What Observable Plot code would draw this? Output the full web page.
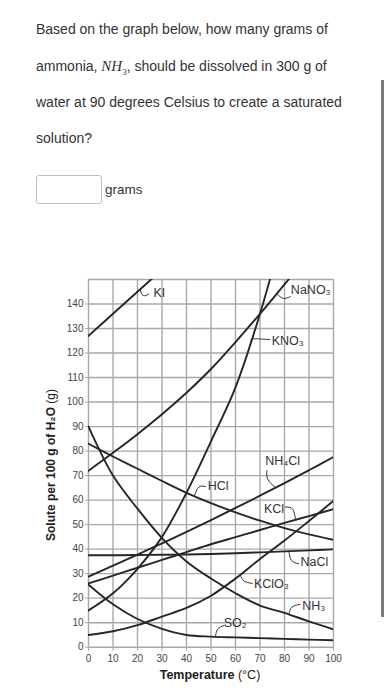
<!DOCTYPE html>
<html><head><meta charset="utf-8">
<script src="https://cdn.jsdelivr.net/npm/d3@7"></script>
<script src="https://cdn.jsdelivr.net/npm/@observablehq/plot@0.6"></script>
<style>
body{margin:0;width:388px;height:700px;background:#fff;font-family:"Liberation Sans",Arial,sans-serif;color:#333;position:relative;overflow:hidden}
.q{position:absolute;left:36px;font-size:14px;line-height:16px;white-space:nowrap;color:#333}
.m{font-family:"Liberation Serif",serif;font-style:italic;font-size:15px}
.box{position:absolute;left:36px;top:175px;width:64px;height:27px;border:1px solid #bdbdbd;border-radius:3px;background:#fff}
.grams{position:absolute;left:105px;top:182px;font-size:13.5px;line-height:16px;color:#333}
.bar{position:absolute;left:381px;top:80px;width:3px;height:537px;background:#7a7a7a}
#chart{position:absolute;left:0;top:270px}
.xt{position:absolute;left:0;width:420px;top:667px;text-align:center;font-size:12.5px;line-height:16px;color:#222}
.yt{position:absolute;left:51px;top:465px;transform:translate(-50%,-50%) rotate(-90deg);white-space:nowrap;font-size:12px;line-height:14px;color:#222}
b{font-weight:bold}
</style></head>
<body>
<div class="q" style="top:21px">Based on the graph below, how many grams of</div>
<div class="q" style="top:58px">ammonia, <span class="m">NH</span><sub style="font-family:'Liberation Serif',serif;font-size:9px">3</sub>, should be dissolved in 300 g of</div>
<div class="q" style="top:94px">water at 90 degrees Celsius to create a saturated</div>
<div class="q" style="top:130px">solution?</div>
<div class="box"></div>
<div class="grams">grams</div>
<div class="bar"></div>
<div id="chart"></div>
<div class="xt"><b>Temperature</b> (°C)</div>
<div class="yt"><b>Solute per 100 g of H₂O</b> (g)</div>
<script>
// Temperatures (°C)
const temps = [0,10,20,30,40,50,60,70,80,90,100];
// Solubility (g per 100 g water)
const KI     = [127,136,145,154];
const NaNO3  = [72,79.3,86.9,95,103.8,113.5,124.5,136,148,160];
const KNO3   = [15,22,32,45,63,84,106,136,172];
const NH4Cl  = [28.8,33.3,37.8,42.4,47,51.8,56.8,61.8,66.9,72.2,77.6];
const KCl    = [26,29.2,32.4,35.6,38.8,42,44.9,47.8,50.7,53.5,56.3];
const HCl    = [83,77.8,72.8,67.8,63,58.8,55,51.6,48.6,46,43.8];
const NaCl   = [37.5,37.5,37.6,37.7,37.8,38,38.3,38.7,39.1,39.5,39.9];
const KClO3  = [5,6.5,9,12.5,16,21,28,36,43.5,51.5,59.7];
const NH3    = [90,70,56.5,44.5,35,28,22,17,14,10.5,7.3];
const SO2    = [25.5,17.5,11.5,7.5,5,4.3,4,3.7,3.4,3.1,2.8];

const seriesNames = ["KI","NaNO3","KNO3","NH4Cl","KCl","HCl","NaCl","KClO3","NH3","SO2"];
const seriesVals  = [KI,NaNO3,KNO3,NH4Cl,KCl,HCl,NaCl,KClO3,NH3,SO2];

// Curve labels (text, temperature, solute)
const labelText = ["KI","NaNO₃","KNO₃","NH₄Cl","HCl","KCl","NaCl","KClO₃","NH₃","SO₂"];
const labelT    = [26.5,82.6,74.8,72.1,48.7,71.6,86.5,67.5,87.2,55.2];
const labelS    = [144.4,145.6,124.9,76.1,65.6,56.4,34.6,25.8,17,10];

// Leader lines: temperatures and solutes per label
const leaderT = [[21,22.3,24.6],[76.9,79.5,82.3],[66.3,67.5,74],[72.8,73.2,76.2],[47.8,45,43.2],[80.4,83.3,84.5],[81.8,82.8,85.8],[62,63.5,66.8],[81.8,83,86.3],[51.8,52.8,55.3]];
const leaderS = [[146,143.5,144],[144.2,142.3,143],[125.2,125.8,125.5],[72,68.5,65.2],[65.5,65.3,61.6],[57.2,56.3,52.1],[39.2,35.5,34],[29.4,27,26],[13.4,16.3,17.5],[4.3,7.5,8.8]];

const xTicks = d3.range(0,101,10);
const yTicks = d3.range(0,141,10);
const gridY  = d3.range(0,151,10);

const rows = [];
seriesNames.forEach((n,i)=>seriesVals[i].forEach((v,j)=>rows.push({name:n,t:temps[j],v})));
const labels = labelText.map((s,i)=>({s,t:labelT[i],v:labelS[i]}));
const leaders = [];
leaderT.forEach((ts,i)=>ts.forEach((t,j)=>leaders.push({k:i,t,v:leaderS[i][j]})));

const chart = Plot.plot({
  width:388, height:430,
  marginLeft:88, marginRight:55, marginTop:9, marginBottom:53.3,
  style:{fontFamily:"'Liberation Sans', Arial, sans-serif", background:"transparent"},
  x:{domain:[0,100]},
  y:{domain:[0,150]},
  marks:[
    Plot.ruleX(xTicks,{stroke:"#a8a8a8",strokeWidth:1.4,y1:0,y2:150}),
    Plot.ruleY(gridY,{stroke:"#a8a8a8",strokeWidth:1.4,x1:0,x2:100}),
    Plot.axisX({ticks:xTicks,tickSize:4,tickPadding:4,stroke:"#a8a8a8",color:"#444",fontSize:10,label:null}),
    Plot.axisY({ticks:yTicks,tickSize:3,tickPadding:2,stroke:"#a8a8a8",color:"#444",fontSize:10,label:null}),
    Plot.line(rows,{x:"t",y:"v",z:"name",curve:"catmull-rom",stroke:"#262626",strokeWidth:1.9,clip:true}),
    Plot.line(leaders,{x:"t",y:"v",z:"k",curve:"natural",stroke:"#333",strokeWidth:1}),
    Plot.text(labels,{x:"t",y:"v",text:"s",textAnchor:"start",fontSize:12.5,fill:"#333"})
  ]
});
document.getElementById("chart").appendChild(chart);
</script>
</body></html>
